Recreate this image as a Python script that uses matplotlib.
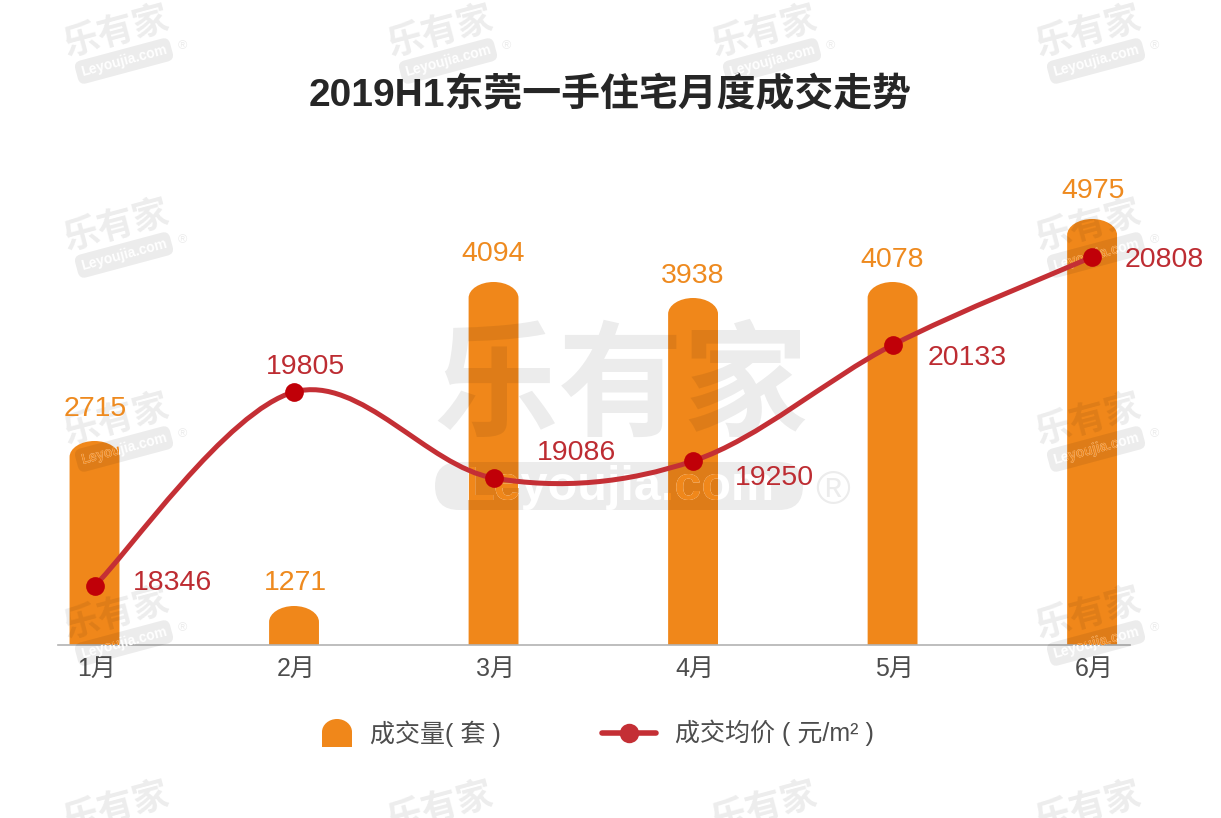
import matplotlib
matplotlib.use('Agg')
import matplotlib.pyplot as plt
import numpy as np
from matplotlib.lines import Line2D
from matplotlib.patches import FancyBboxPatch, PathPatch
from matplotlib.path import Path
from matplotlib.transforms import TransformedBbox

plt.rcParams['font.family'] = ['Liberation Sans', 'Noto Sans CJK SC', 'DejaVu Sans']

W, H = 1221, 818

# Data
months = ['1月', '2月', '3月', '4月', '5月', '6月']
volume = [2715, 1271, 4094, 3938, 4078, 4975]
price = [18346, 19805, 19086, 19250, 20133, 20808]
# the original is not drawn to scale, so these are the heights as drawn
volume_drawn = [204, 39, 363, 347, 363, 426]
price_drawn = [59, 253, 167, 184, 300, 388]

ORANGE = '#f0871a'
RED = '#c42f35'
GREY = '#4d4d4d'


def dome_path(x0, x1, y0, y1, dome):
    # box with an elliptical top
    mid = (x0 + x1) / 2
    k = 0.55
    half = (x1 - x0) / 2
    verts = [(x0, y0), (x0, y1 - dome),
             (x0, y1 - dome + k * dome), (mid - k * half, y1), (mid, y1),
             (mid + k * half, y1), (x1, y1 - dome + k * dome), (x1, y1 - dome),
             (x1, y0), (x0, y0)]
    codes = [Path.MOVETO, Path.LINETO, Path.CURVE4, Path.CURVE4, Path.CURVE4,
             Path.CURVE4, Path.CURVE4, Path.CURVE4, Path.LINETO, Path.CLOSEPOLY]
    return Path(verts, codes)


def smooth_path(xs, ys):
    # Catmull-Rom segments as beziers, through the given points only
    verts = [(xs[0], ys[0])]
    codes = [Path.MOVETO]
    n = len(xs)
    for i in range(n - 1):
        a, b = max(i - 1, 0), min(i + 2, n - 1)
        verts.append((xs[i] + (xs[i + 1] - xs[a]) / 6, ys[i] + (ys[i + 1] - ys[a]) / 6))
        verts.append((xs[i + 1] - (xs[b] - xs[i]) / 6, ys[i + 1] - (ys[b] - ys[i]) / 6))
        verts.append((xs[i + 1], ys[i + 1]))
        codes += [Path.CURVE4] * 3
    return Path(verts, codes)


fig = plt.figure(figsize=(W / 100, H / 100), dpi=100, facecolor='white')

# Chart area: 58..1130 px wide, baseline at 645 px, 1 unit = 1 px high
chart_box = [58 / W, (H - 645) / H, (1130 - 58) / W, 495 / H]
ax = fig.add_axes(chart_box)
ax.set_xlim(-0.183, 5.19)
ax.set_ylim(0, 495)
ax.patch.set_alpha(0)
for side in ['top', 'left', 'right']:
    ax.spines[side].set_visible(False)
ax.spines['bottom'].set_color('#b3b3b3')
ax.spines['bottom'].set_linewidth(1.2)
ax.set_yticks([])
x = np.arange(len(months), dtype=float)
ax.set_xticks(x + 0.01)
ax.set_xticklabels(months, fontsize=18, color=GREY)
ax.tick_params(axis='x', length=0, pad=8.5)

bars = []
for xi, h in zip(x, volume_drawn):
    bar = PathPatch(dome_path(xi - 0.125, xi + 0.125, 0, h, 16), facecolor=ORANGE,
                    edgecolor='none', zorder=2, clip_on=False)
    ax.add_patch(bar)
    bars.append(bar)

# Overlay in pixel coordinates for title, legend and watermarks
ov = fig.add_axes([0, 0, 1, 1], zorder=5)
ov.set_xlim(0, W)
ov.set_ylim(H, 0)
ov.axis('off')

# Line and labels sit over the watermarks
top = fig.add_axes(chart_box, zorder=6)
top.set_xlim(ax.get_xlim())
top.set_ylim(ax.get_ylim())
top.axis('off')

top.add_patch(PathPatch(smooth_path(x, np.array(price_drawn, dtype=float)), facecolor='none',
                        edgecolor=RED, linewidth=3.6, capstyle='round', zorder=3))
top.plot(x, price_drawn, linestyle='none', marker='o', markersize=13.5, color='#c00008',
         markeredgewidth=0, zorder=4, clip_on=False)

volume_offsets = [(1, 32), (1, 23), (0, 28), (0, 22), (0, 22), (1, 28)]
for xi, v, h, off in zip(x, volume, volume_drawn, volume_offsets):
    top.annotate(str(v), (xi, h), xytext=off, textcoords='offset pixels', ha='center',
                 va='center', fontsize=20.5, color='#ee8a1f', zorder=5)

price_offsets = [(78, 3), (11, 25), (83, 25), (81, -17), (75, -13), (72, -3)]
for xi, p, h, off in zip(x, price, price_drawn, price_offsets):
    top.annotate(str(p), (xi, h), xytext=off, textcoords='offset pixels', ha='center',
                 va='center', fontsize=20.5, color='#bd2c32', zorder=5, annotation_clip=False)

ov.text(610, 95, '2019H1东莞一手住宅月度成交走势', fontsize=28, fontweight='bold',
        color='#262626', ha='center', va='center')

# Legend
ov.add_patch(PathPatch(dome_path(322, 352, 747, 719, -13), facecolor=ORANGE, edgecolor='none'))
ov.text(370, 734, '成交量( 套 )', fontsize=18, color=GREY, va='center')
ov.add_line(Line2D([602, 656], [733, 733], color=RED, linewidth=4, solid_capstyle='round'))
ov.add_line(Line2D([629], [733], marker='o', markersize=14, color=RED, markeredgewidth=0))
ov.text(675, 733, '成交均价 ( 元/m² )', fontsize=18, color=GREY, va='center')

# Watermarks, drawn over the bars
MARK = (0, 0, 0, 0.075)
PILL = dict(boxstyle='round,pad=0.35,rounding_size=0.5', facecolor=MARK, edgecolor='none')


def on_bar(t, i):
    # keep a letter copy only where it lies on bar i (agg text only clips to a box)
    t.set_clip_on(True)
    t.set_clip_box(TransformedBbox(bars[i].get_path().get_extents(), ax.transData))


def small_mark(cx, cy, overlap=()):
    ov.text(cx - 10, cy - 9, '乐有家', fontsize=26, fontweight='bold', color=MARK, rotation=15,
            rotation_mode='anchor', ha='center', va='center', clip_on=True)
    if cy > H - 20:
        return  # the rest of the mark is below the picture
    label = dict(fontsize=10, fontweight='bold', rotation=15, rotation_mode='anchor',
                 ha='center', va='center')
    ov.text(cx - 3, cy + 19, 'Leyoujia.com', color='white', bbox=PILL, **label)
    # letters are cut out of the pill, so over a bar they show the bar colour
    for i in overlap:
        on_bar(ov.text(cx - 3, cy + 19, 'Leyoujia.com', color=ORANGE, **label), i)
    ov.text(cx + 55, cy + 4, '®', fontsize=9, color=MARK, ha='center', va='center')


for cy in [42, 236, 430, 624, 818]:
    for cx in [127, 451, 775, 1099]:
        if cx in (451, 775) and cy in (236, 430, 624):
            continue
        near = []
        if cy in (430, 624) and cx == 127:
            near = [0]
        if cy in (236, 430, 624) and cx == 1099:
            near = [5]
        small_mark(cx, cy, near)

ov.text(621, 393, '乐有家', fontsize=90, fontweight='bold', color=MARK, ha='center', va='center')
ov.add_patch(FancyBboxPatch((435, 462), 368, 48, boxstyle='round,pad=0,rounding_size=24',
                            mutation_aspect=1, facecolor=MARK, edgecolor='none'))
big_label = dict(fontsize=35, fontweight='bold', ha='center', va='center')
ov.text(620, 487, 'Leyoujia.com', color='white', **big_label)
for i in (2, 3):
    on_bar(ov.text(620, 487, 'Leyoujia.com', color=ORANGE, **big_label), i)
ov.text(833, 492, '®', fontsize=34, color=MARK, ha='center', va='center')

fig.savefig('out.png', dpi=100, facecolor='white')
